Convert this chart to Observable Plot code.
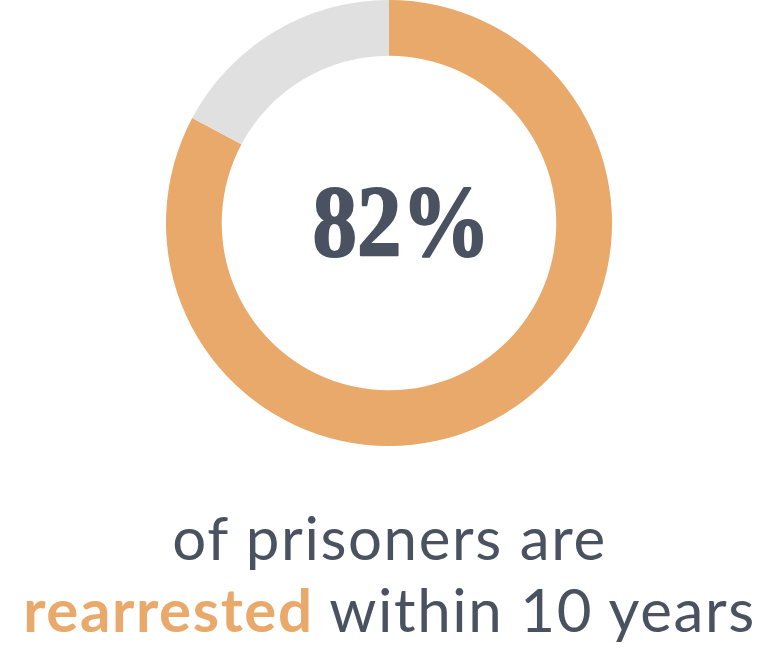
<!DOCTYPE html>
<html><head><meta charset="utf-8">
<script src="https://cdn.jsdelivr.net/npm/d3@7"></script>
<script src="https://cdn.jsdelivr.net/npm/@observablehq/plot@0.6"></script>
<style>
body{margin:0;background:#fff;}
#wrap{width:759px;}
#wrap svg{overflow:visible;display:block;}
.cap{margin-top:55px;padding-left:20px;width:739px;text-align:center;font-family:Lato,sans-serif;font-size:60px;letter-spacing:1.6px;color:#4a5261;line-height:72px;white-space:nowrap;}
.hl{color:#e8a96a;font-weight:700;}
</style></head><body><div id="wrap"></div>
<script>
const categories = ["Rearrested", "Not rearrested"];
const shares = [82.8, 17.2];
const sliceColors = ["#e8a96a", "#e0e0e0"];
const centerLabel = "82%";
const captionLine1 = "of prisoners are";
const captionHighlight = "rearrested";
const captionRest = "within 10 years";

const data = categories.map((c, i) => ({category: c, share: shares[i]}));
const color = d3.scaleOrdinal(categories, sliceColors);

function donut(index, scales, values, dim) {
  const w = dim.width - dim.marginLeft - dim.marginRight;
  const h = dim.height - dim.marginTop - dim.marginBottom;
  const cx = dim.marginLeft + w / 2, cy = dim.marginTop + h / 2;
  const outer = Math.min(w, h) / 2, inner = outer * 0.75;
  const arcs = d3.pie().sort(null).value(d => d.share)(data);
  const arc = d3.arc().innerRadius(inner).outerRadius(outer);
  const g = d3.create("svg:g").attr("transform", `translate(${cx},${cy})`);
  g.selectAll("path").data(arcs).join("path")
    .attr("d", arc).attr("fill", d => color(d.data.category));
  return g.node();
}

const chart = Plot.plot({
  width: 759, height: 446,
  marginLeft: 19, marginRight: 0, marginTop: 0, marginBottom: 0,
  marks: [
    donut,
    Plot.text([centerLabel], {text: d => d, frameAnchor: "middle", dx: 12,
      fontFamily: "Liberation Serif", fontWeight: "bold", fontSize: 102,
      fill: "#4a5261", stroke: "#4a5261", strokeWidth: 2})
  ]
});
d3.select(chart).selectAll("g[aria-label=text] text")
  .attr("textLength", 178).attr("lengthAdjust", "spacingAndGlyphs");
const wrap = document.getElementById("wrap");
wrap.appendChild(chart);
const cap = document.createElement("div");
cap.className = "cap";
cap.innerHTML = `${captionLine1}<br><span class="hl">${captionHighlight}</span> ${captionRest}`;
wrap.appendChild(cap);
</script></body></html>
